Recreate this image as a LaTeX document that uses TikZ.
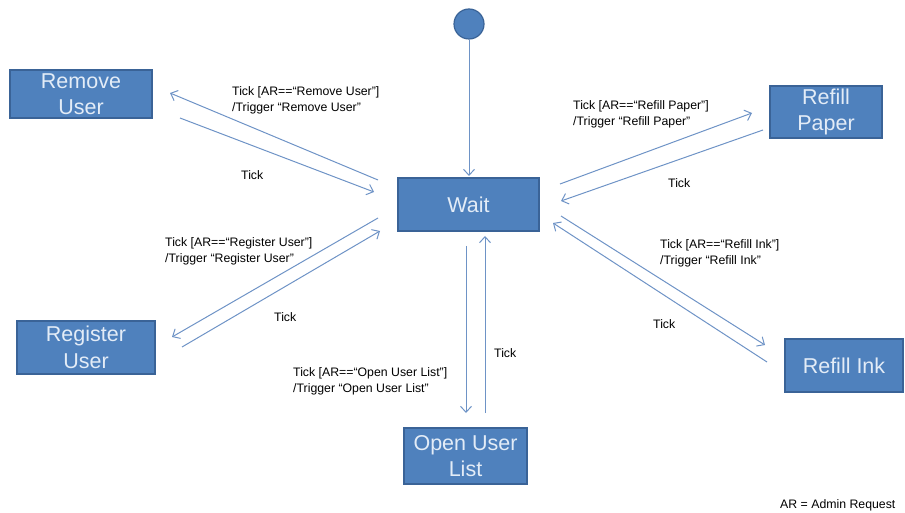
\documentclass[tikz,border=0pt]{standalone}
\usepackage{fontspec}
\setmainfont{Liberation Sans}
\usetikzlibrary{arrows.meta}
\definecolor{boxfill}{HTML}{4F81BD}
\definecolor{boxline}{HTML}{3A6397}
\definecolor{edgecol}{HTML}{6E93C6}
\definecolor{boxtext}{HTML}{E3ECF7}
\begin{document}
\begin{tikzpicture}[x=1pt,y=-1pt,
  state/.style={draw=boxline,line width=1.2pt,fill=boxfill,text=boxtext,
    font=\fontsize{21.5}{26.5}\selectfont,align=center,inner sep=0pt},
  lbl/.style={font=\fontsize{12.3}{16}\selectfont,align=left,anchor=north west,inner sep=0pt},
  tr/.style={draw=edgecol,line width=1pt,-{Straight Barb[length=6pt,width=11pt]}}]
\useasboundingbox (0,0) rectangle (905,513);
% states
\node[circle,draw=boxline,line width=1.2pt,fill=boxfill,minimum size=30pt,inner sep=0pt] (init) at (469,24) {};
\node[state,minimum width=141pt,minimum height=53pt] (wait) at (468.5,204.5) {Wait};
\node[state,minimum width=142pt,minimum height=48pt] (rem) at (81,94) {Remove\\User};
\node[state,minimum width=112pt,minimum height=52pt] (pap) at (826,112) {Refill\\Paper};
\node[state,minimum width=138pt,minimum height=53pt] (reg) at (86,347.5) {Register\\User};
\node[state,minimum width=118pt,minimum height=53pt] (ink) at (844,365.5) {Refill Ink};
\node[state,minimum width=123pt,minimum height=56pt] (open) at (465.5,456) {Open User\\List};
% coordinates for connector ends
\coordinate (i1) at (469,40);
\coordinate (w0) at (469,176);
\coordinate (wr1) at (378,180); \coordinate (r1) at (170,93);
\coordinate (r2) at (180,118); \coordinate (wr2) at (374,192);
\coordinate (wp1) at (560,184); \coordinate (p1) at (752,113);
\coordinate (p2) at (763,130); \coordinate (wp2) at (561,201);
\coordinate (wg1) at (378,218); \coordinate (g1) at (172,337);
\coordinate (g2) at (182,347); \coordinate (wg2) at (380,231);
\coordinate (k1) at (767,362); \coordinate (wk1) at (553,223);
\coordinate (wk2) at (561,216); \coordinate (k2) at (765,345);
\coordinate (wo1) at (466,246); \coordinate (o1) at (466,413);
\coordinate (o2) at (485,413); \coordinate (wo2) at (485,236);
% transitions
\draw[tr] (i1) -- (w0);
\draw[tr] (wr1) -- (r1);
\draw[tr] (r2) -- (wr2);
\draw[tr] (wp1) -- (p1);
\draw[tr] (p2) -- (wp2);
\draw[tr] (wg1) -- (g1);
\draw[tr] (g2) -- (wg2);
\draw[tr] (k1) -- (wk1);
\draw[tr] (wk2) -- (k2);
\draw[tr] (wo1) -- (o1);
\draw[tr] (o2) -- (wo2);
% labels
\node[lbl] (l1) at (232,86) {Tick [AR==“Remove User”]\\/Trigger “Remove User”};
\node[lbl] (t1) at (241,170) {Tick};
\node[lbl] (l2) at (573,100) {Tick [AR==“Refill Paper”]\\/Trigger “Refill Paper”};
\node[lbl] (t2) at (668,178) {Tick};
\node[lbl] (l3) at (165,237) {Tick [AR==“Register User”]\\/Trigger “Register User”};
\node[lbl] (t3) at (274,312) {Tick};
\node[lbl] (l4) at (293,367) {Tick [AR==“Open User List”]\\/Trigger “Open User List”};
\node[lbl] (t4) at (494,348) {Tick};
\node[lbl] (l5) at (660,239) {Tick [AR==“Refill Ink”]\\/Trigger “Refill Ink”};
\node[lbl] (t5) at (653,319) {Tick};
\node[lbl] (ar) at (780,499) {AR = Admin Request};
\end{tikzpicture}
\end{document}
